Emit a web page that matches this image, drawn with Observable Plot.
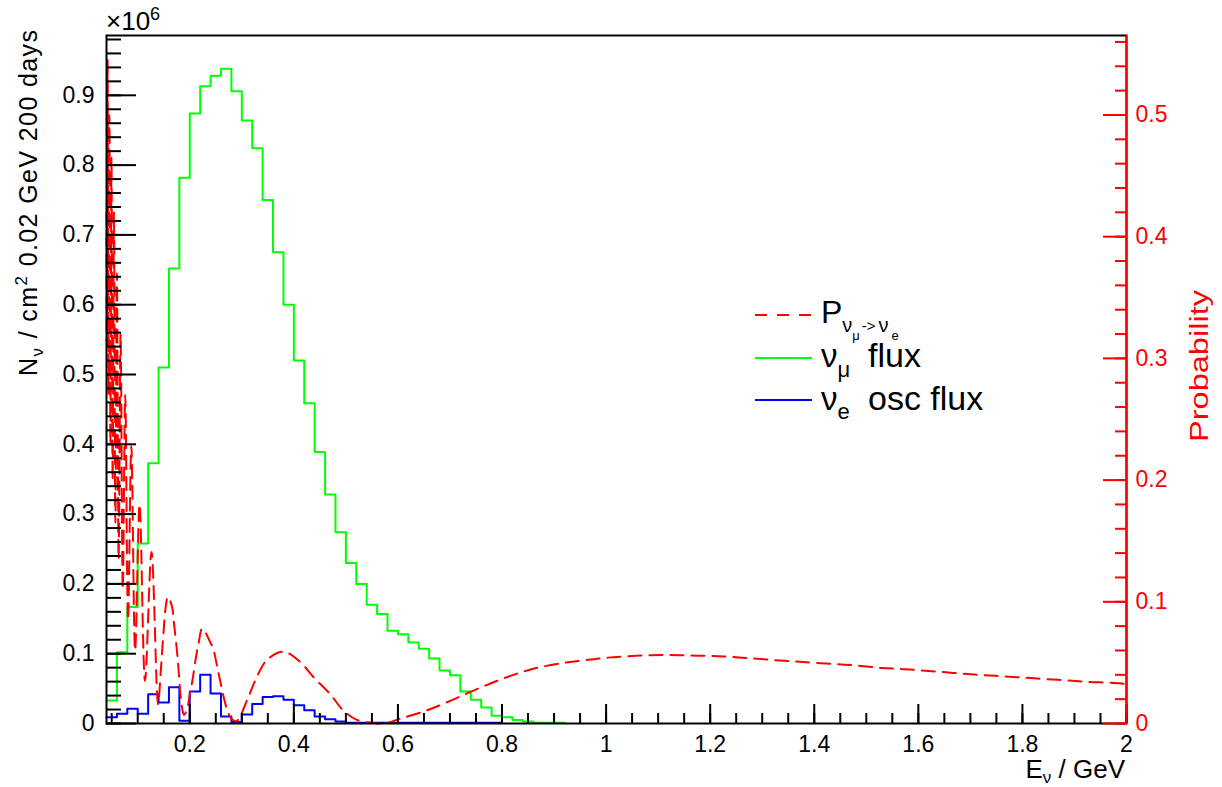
<!DOCTYPE html>
<html><head><meta charset="utf-8">
<script src="https://cdn.jsdelivr.net/npm/d3@7"></script>
<script src="https://cdn.jsdelivr.net/npm/@observablehq/plot@0.6"></script>
<style>
html,body{margin:0;padding:0;background:#fff;}
#wrap{position:relative;width:1222px;height:787px;overflow:hidden;background:#fff;}
#wrap svg{position:absolute;left:0;top:0;}
</style></head><body><div id="wrap"></div>
<script>
// ---- data (flux in units of 10^6 per cm^2 per 0.02 GeV per 200 days) ----
const binWidth = 0.02;
const numuBinLow = [0.04,0.06,0.08,0.10,0.12,0.14,0.16,0.18,0.20,0.22,0.24,0.26,0.28,0.30,0.32,0.34,0.36,0.38,0.40,0.42,0.44,0.46,0.48,0.50,0.52,0.54,0.56,0.58,0.60,0.62,0.64,0.66,0.68,0.70,0.72,0.74,0.76,0.78,0.80,0.82,0.84,0.86,0.88,0.90];
const numuFlux = [0.033,0.102,0.167,0.258,0.373,0.510,0.652,0.782,0.874,0.913,0.928,0.938,0.906,0.864,0.824,0.750,0.675,0.600,0.520,0.459,0.389,0.328,0.274,0.230,0.200,0.170,0.157,0.133,0.128,0.116,0.107,0.093,0.076,0.069,0.046,0.034,0.023,0.011,0.009,0.005,0.003,0.001,0.001,0.001];
const nueBinLow = [0.04,0.06,0.08,0.10,0.12,0.14,0.16,0.18,0.20,0.22,0.24,0.26,0.28,0.30,0.32,0.34,0.36,0.38,0.40,0.42,0.44,0.46,0.48,0.50,0.52,0.54,0.56,0.58,0.60,0.62,0.64,0.66,0.68,0.70,0.72,0.74,0.76,0.78];
const nueOscFlux = [0.009,0.014,0.021,0.014,0.042,0.030,0.052,0.004,0.046,0.070,0.043,0.010,0.002,0.013,0.028,0.038,0.039,0.034,0.026,0.019,0.010,0.006,0.003,0.001,0.001,0.001,0.001,0.001,0.001,0.001,0.001,0.001,0.001,0.001,0.001,0.001,0.001,0.001];
// P(numu -> nue): [E (GeV), probability]
const probability = [
 [0.0400,0.42],[0.0407,0.31],[0.0422,0.545],[0.0438,0.27],[0.0456,0.50],[0.0475,0.23],[0.0496,0.465],[0.0518,0.20],
 [0.0543,0.42],[0.0570,0.165],[0.0600,0.37],[0.0633,0.135],[0.0671,0.32],[0.0713,0.11],[0.0760,0.27],[0.0814,0.085],
 [0.0877,0.228],[0.0950,0.06],[0.1036,0.18],[0.1140,0.035],[0.1265,0.141],[0.1390,0.016],[0.1440,0.041],[0.1470,0.060],
 [0.1500,0.077],[0.1530,0.093],[0.1580,0.104],[0.1660,0.096],[0.1690,0.085],[0.1760,0.057],[0.1790,0.041],[0.1820,0.024],
 [0.1860,0.011],[0.1890,0.007],[0.1950,0.012],[0.2000,0.024],[0.2050,0.035],[0.2110,0.052],[0.2170,0.066],[0.2240,0.078],
 [0.2380,0.068],[0.2460,0.060],[0.2520,0.048],[0.2580,0.036],[0.2650,0.022],[0.2720,0.011],[0.2800,0.004],[0.2900,0.002],
 [0.3100,0.019],[0.3260,0.0355],[0.3480,0.052],[0.3800,0.059],[0.4120,0.0506],[0.4380,0.038],[0.4700,0.024],[0.4950,0.0107],
 [0.5210,0.003],[0.5470,0.0006],[0.5750,0.0],[0.6040,0.0039],[0.6550,0.0107],[0.7070,0.0198],[0.7580,0.0294],[0.8090,0.038],
 [0.8600,0.045],[0.9140,0.0495],[0.9530,0.0517],[0.9920,0.0537],[1.0300,0.055],[1.0720,0.0559],[1.1140,0.0564],[1.1560,0.0559],
 [1.1990,0.0556],[1.2410,0.0548],[1.2830,0.0534],[1.3250,0.052],[1.3640,0.0509],[1.4020,0.0498],[1.4440,0.0487],[1.4860,0.0475],
 [1.5290,0.0456],[1.5670,0.0448],[1.6060,0.0436],[1.6480,0.0423],[1.6860,0.0409],[1.7280,0.0397],[1.7670,0.0386],[1.8090,0.0375],
 [1.8480,0.0364],[1.8900,0.0353],[1.9280,0.0342],[1.9710,0.0334],[2.0000,0.0325]
];
// axes
const xDomain = [0.04, 2.0];
const yDomain = [0, 0.9857];      // ×10^6
const pDomain = [0, 0.5653];      // probability (right axis)
const xMajor = [0.2,0.4,0.6,0.8,1.0,1.2,1.4,1.6,1.8,2.0];
const xMinor = d3.range(0.05, 2.001, 0.05);
const yMajor = [0,0.1,0.2,0.3,0.4,0.5,0.6,0.7,0.8,0.9];
const yMinor = d3.range(0, 0.985, 0.02);
const pMajor = [0,0.1,0.2,0.3,0.4,0.5];
const pMinor = d3.range(0, 0.565, 0.02);

// ---- build ----
const ratio = yDomain[1] / pDomain[1];
function stepPts(lows, vals){
  const pts = lows.map((x,i)=>({x, y: vals[i]}));
  pts.push({x: lows[lows.length-1] + binWidth, y: vals[vals.length-1]});
  return pts;
}
const greenPts = stepPts(numuBinLow, numuFlux);
const bluePts = stepPts(nueBinLow, nueOscFlux);
const probPts = probability.map(([E,p])=>({E,p}));
const fmtY = v => Math.abs(v) < 1e-9 ? "0" : d3.format(".1f")(v);
const fmtX = v => String(+v.toFixed(1));

const W = 1222, H = 787;
const chart = Plot.plot({
  width: W, height: H,
  marginLeft: 106, marginRight: 96, marginTop: 35, marginBottom: 64,
  x: {domain: xDomain, label: null},
  y: {domain: yDomain, label: null},
  style: {fontFamily: "'Liberation Sans', Arial, sans-serif", fontSize: "23px", background: "white", color: "black"},
  marks: [
    Plot.line(greenPts, {x: "x", y: "y", curve: "step-after", stroke: "#00ff00", strokeWidth: 2}),
    Plot.line(bluePts, {x: "x", y: "y", curve: "step-after", stroke: "#0000ff", strokeWidth: 2}),
    Plot.line(probPts, {x: "E", y: d => d.p * ratio, curve: "catmull-rom", stroke: "#ff0000", strokeWidth: 2, strokeDasharray: "13,8"}),
    Plot.frame({stroke: "black", strokeWidth: 2}),
    // bottom axis
    Plot.axisX(xMinor, {tickSize: -10, fill: "none", strokeWidth: 2, label: null}),
    Plot.axisX(xMajor, {tickSize: -19, fill: "none", strokeWidth: 2, label: null}),
    Plot.axisX(xMajor, {tickSize: 0, tickPadding: 12, tickFormat: fmtX, fontSize: 23, label: null}),
    // left axis
    Plot.axisY(yMinor, {tickSize: -15, fill: "none", strokeWidth: 2, label: null}),
    Plot.axisY(yMajor, {tickSize: -30, fill: "none", strokeWidth: 2, label: null}),
    Plot.axisY(yMajor, {tickSize: 0, tickPadding: 12, tickFormat: fmtY, fontSize: 23, label: null}),
    // right axis (probability)
    Plot.ruleX([xDomain[1]], {stroke: "#ff0000", strokeWidth: 2}),
    Plot.axisY(pMinor.map(p => p * ratio), {anchor: "right", tickSize: -12, fill: "none", stroke: "#ff0000", strokeWidth: 2, label: null}),
    Plot.axisY(pMajor.map(p => p * ratio), {anchor: "right", tickSize: -24, fill: "none", stroke: "#ff0000", strokeWidth: 2, label: null}),
    Plot.axisY(pMajor.map(p => p * ratio), {anchor: "right", tickSize: 0, tickPadding: 9, fill: "#ff0000", tickFormat: v => fmtY(v / ratio), fontSize: 23, label: null})
  ]
});
const wrap = document.getElementById("wrap");
wrap.appendChild(chart);

// ---- overlay: axis titles, exponent and legend ----
const ff = "'Liberation Sans', Arial, sans-serif";
const ov = `
<svg xmlns="http://www.w3.org/2000/svg" width="${W}" height="${H}" font-family="${ff}" style="pointer-events:none">
  <text x="106" y="30" font-size="26">×10<tspan font-size="18" dy="-10">6</tspan></text>
  <text transform="translate(37,30) rotate(-90)" text-anchor="end" font-size="25" textLength="346" lengthAdjust="spacing">N<tspan font-size="17" dy="6">ν</tspan><tspan dy="-6"> / cm</tspan><tspan font-size="17" dy="-10">2</tspan><tspan dy="10"> 0.02 GeV 200 days</tspan></text>
  <text transform="translate(1208,290) rotate(-90)" text-anchor="end" font-size="26" fill="#ff0000" textLength="152" lengthAdjust="spacingAndGlyphs">Probability</text>
  <text x="1125" y="778" text-anchor="end" font-size="26">E<tspan font-size="17" dy="5">ν</tspan><tspan dy="-5"> / GeV</tspan></text>
  <line x1="755" y1="315" x2="812" y2="315" stroke="#ff0000" stroke-width="2" stroke-dasharray="12,10"/>
  <line x1="755" y1="358" x2="812" y2="358" stroke="#00ff00" stroke-width="2"/>
  <line x1="755" y1="400" x2="812" y2="400" stroke="#0000ff" stroke-width="2"/>
  <text x="821" y="323" font-size="32">P<tspan font-size="20" dy="9">ν</tspan><tspan font-size="13" dy="8">μ</tspan><tspan font-size="15" dy="-9" dx="2">-&gt;</tspan><tspan font-size="20" dy="1" dx="3">ν</tspan><tspan font-size="13" dy="8" dx="3">e</tspan></text>
  <text x="821" y="367" font-size="33">ν<tspan font-size="22" dy="10">μ</tspan><tspan font-size="34" dy="-10" x="868">flux</tspan></text>
  <text x="821" y="410" font-size="33">ν<tspan font-size="22" dy="9">e</tspan><tspan font-size="34" dy="-9" x="868">osc flux</tspan></text>
</svg>`;
const d = document.createElement("div");
d.innerHTML = ov;
wrap.appendChild(d.firstElementChild);
</script></body></html>
